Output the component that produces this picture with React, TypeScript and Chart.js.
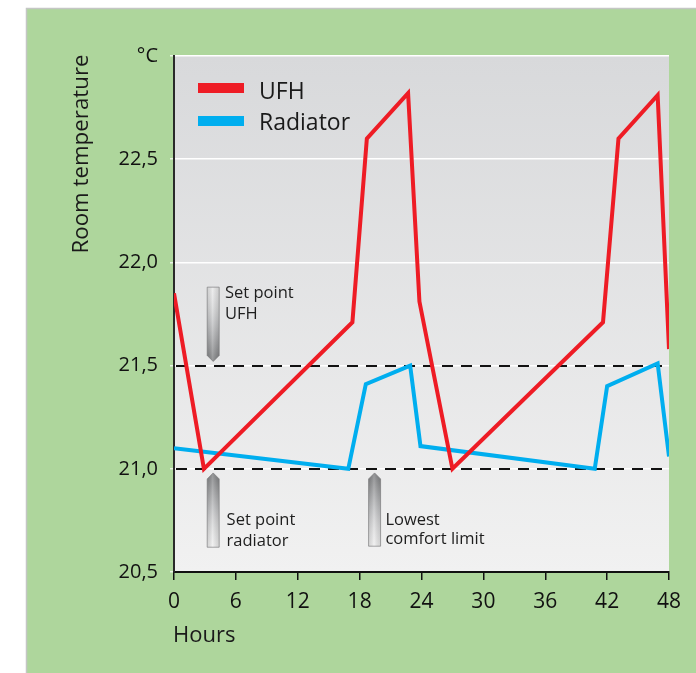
import React, { useEffect, useRef } from 'react';
import { Chart, registerables } from 'chart.js';

Chart.register(...registerables);

// ---------- data ----------
const hourTicks = [0, 6, 12, 18, 24, 30, 36, 42, 48];
const tempTicks = [20.5, 21.0, 21.5, 22.0, 22.5, 23.0];
const seriesNames = ['UFH', 'Radiator'];
const seriesColors = ['#ee1c25', '#00aeef'];

const ufhHours = [0, 2.9, 17.3, 18.7, 22.7, 23.8, 27.0, 41.6, 43.1, 46.9, 48];
const ufhTemp = [21.85, 21.0, 21.71, 22.6, 22.82, 21.81, 21.0, 21.71, 22.6, 22.81, 21.58];

const radHours = [0, 16.9, 18.6, 22.9, 23.9, 40.8, 42.0, 46.9, 48];
const radTemp = [21.1, 21.0, 21.41, 21.5, 21.11, 21.0, 21.4, 21.51, 21.06];

const referenceLevels = [21.0, 21.5];

const noteLabels = [['Set point', 'UFH'], ['Set point', 'radiator'], ['Lowest', 'comfort limit']];
const noteHours = [3.8, 3.8, 19.45];
const noteFrom = [21.88, 20.62, 20.625];
const noteTo = [21.52, 20.98, 20.98];
const noteTextHours = [4.95, 5.1, 20.5];
const noteTextTemps = [[21.826, 21.724], [20.73, 20.625], [20.73, 20.634]];

const FONT = '"Open Sans", "Noto Sans", sans-serif';

function fmt(v: number) {
  if (Math.abs(v - 23) < 1e-6) return '\u00B0C';
  return v.toFixed(1).replace('.', ',');
}

function drawArrow(ctx: CanvasRenderingContext2D, cx: number, yFlat: number, yTip: number) {
  const half = 6;
  const taper = 6;
  const dir = yTip > yFlat ? 1 : -1;
  const yShoulder = yTip - dir * taper;
  ctx.save();
  ctx.beginPath();
  ctx.moveTo(cx - half, yFlat);
  ctx.lineTo(cx + half, yFlat);
  ctx.lineTo(cx + half, yShoulder);
  ctx.lineTo(cx, yTip);
  ctx.lineTo(cx - half, yShoulder);
  ctx.closePath();
  const g = ctx.createLinearGradient(0, yFlat, 0, yTip);
  g.addColorStop(0, 'rgba(240,240,240,0.5)');
  g.addColorStop(0.5, 'rgba(190,191,193,0.9)');
  g.addColorStop(1, '#7d7e80');
  ctx.fillStyle = g;
  ctx.fill();
  const h = ctx.createLinearGradient(cx - half, 0, cx + half, 0);
  h.addColorStop(0, 'rgba(0,0,0,0.10)');
  h.addColorStop(0.45, 'rgba(255,255,255,0.18)');
  h.addColorStop(1, 'rgba(0,0,0,0.12)');
  ctx.fillStyle = h;
  ctx.fill();
  ctx.strokeStyle = 'rgba(120,120,122,0.65)';
  ctx.lineWidth = 1;
  ctx.stroke();
  ctx.restore();
}

const decorPlugin = {
  id: 'decor',
  beforeDraw(chart: any) {
    const { ctx, chartArea } = chart;
    const W = chart.width;
    const H = chart.height;
    ctx.save();
    ctx.fillStyle = '#ffffff';
    ctx.fillRect(0, 0, W, H);
    ctx.fillStyle = '#aed69c';
    ctx.fillRect(27, 9, W - 27, H - 9);
    ctx.strokeStyle = '#c4c6c4';
    ctx.lineWidth = 1.5;
    ctx.beginPath();
    ctx.moveTo(26.5, H);
    ctx.lineTo(26.5, 8.5);
    ctx.lineTo(W, 8.5);
    ctx.stroke();
    const g = ctx.createLinearGradient(0, chartArea.top, 0, chartArea.bottom);
    g.addColorStop(0, '#d8d9db');
    g.addColorStop(1, '#f1f1f1');
    ctx.fillStyle = g;
    ctx.fillRect(chartArea.left, chartArea.top, chartArea.right - chartArea.left, chartArea.bottom - chartArea.top);
    ctx.restore();
  },
  beforeDatasetsDraw(chart: any) {
    const { ctx, chartArea, scales } = chart;
    ctx.save();
    ctx.strokeStyle = '#111111';
    ctx.lineWidth = 2;
    ctx.setLineDash([11, 8]);
    referenceLevels.forEach((v) => {
      const y = Math.round(scales.y.getPixelForValue(v));
      ctx.beginPath();
      ctx.moveTo(chartArea.left + 2, y);
      ctx.lineTo(chartArea.right, y);
      ctx.stroke();
    });
    ctx.restore();
    ctx.save();
    noteHours.forEach((hr, i) => {
      const cx = scales.x.getPixelForValue(hr);
      drawArrow(ctx, cx, scales.y.getPixelForValue(noteFrom[i]), scales.y.getPixelForValue(noteTo[i]));
    });
    ctx.fillStyle = '#1e1e1e';
    ctx.font = `16.5px ${FONT}`;
    ctx.textAlign = 'left';
    ctx.textBaseline = 'alphabetic';
    noteLabels.forEach((lines, i) => {
      const x = scales.x.getPixelForValue(noteTextHours[i]);
      lines.forEach((t, j) => {
        ctx.fillText(t, x, scales.y.getPixelForValue(noteTextTemps[i][j]));
      });
    });
    ctx.restore();
  },
  afterDraw(chart: any) {
    const { ctx, chartArea } = chart;
    ctx.save();
    // legend
    const sx = chartArea.left + 24;
    const rows = [88, 121];
    const bases = [99, 130];
    ctx.font = `23px ${FONT}`;
    ctx.textAlign = 'left';
    ctx.textBaseline = 'alphabetic';
    seriesNames.forEach((n, i) => {
      ctx.fillStyle = seriesColors[i];
      ctx.fillRect(sx, rows[i] - 5, 46, 10);
      ctx.fillStyle = '#1a1a1a';
      ctx.fillText(n, sx + 61, bases[i]);
    });
    // axis titles
    ctx.fillStyle = '#1a1a1a';
    ctx.font = `22.3px ${FONT}`;
    ctx.textAlign = 'center';
    ctx.textBaseline = 'middle';
    ctx.translate(82, 154);
    ctx.rotate(-Math.PI / 2);
    ctx.fillText('Room temperature', 0, 0);
    ctx.setTransform(1, 0, 0, 1, 0, 0);
    ctx.font = `22px ${FONT}`;
    ctx.textAlign = 'left';
    ctx.fillText('Hours', chartArea.left - 1, 636);
    ctx.restore();
  },
};

export default function App() {
  const ref = useRef<HTMLCanvasElement | null>(null);
  useEffect(() => {
    if (!ref.current) return;
    const chart = new Chart(ref.current, {
      type: 'line',
      data: {
        datasets: [
          {
            label: seriesNames[0],
            data: ufhHours.map((h, i) => ({ x: h, y: ufhTemp[i] })),
            borderColor: seriesColors[0],
            borderWidth: 4,
            pointRadius: 0,
            tension: 0,
            clip: 0,
            borderJoinStyle: 'miter',
          },
          {
            label: seriesNames[1],
            data: radHours.map((h, i) => ({ x: h, y: radTemp[i] })),
            borderColor: seriesColors[1],
            borderWidth: 4,
            pointRadius: 0,
            tension: 0,
            clip: 0,
            borderJoinStyle: 'miter',
          },
        ],
      },
      options: {
        responsive: false,
        animation: false,
        layout: { padding: { left: 0, top: 56, right: 27, bottom: 0 } },
        plugins: { legend: { display: false }, tooltip: { enabled: false } },
        scales: {
          x: {
            type: 'linear',
            min: hourTicks[0],
            max: hourTicks[hourTicks.length - 1],
            afterBuildTicks: (s: any) => {
              s.ticks = hourTicks.map((v) => ({ value: v }));
            },
            afterFit: (s: any) => {
              s.height = 101;
            },
            ticks: {
              font: { family: FONT, size: 21 },
              color: '#111',
              padding: 9,
              maxRotation: 0,
              callback: (v: any) => String(v),
            },
            grid: {
              drawOnChartArea: false,
              drawTicks: true,
              tickLength: 8,
              tickColor: '#111',
              lineWidth: 1.5,
            },
            border: { color: '#111', width: 2 },
          },
          y: {
            type: 'linear',
            min: tempTicks[0],
            max: tempTicks[tempTicks.length - 1],
            afterBuildTicks: (s: any) => {
              s.ticks = tempTicks.map((v) => ({ value: v }));
            },
            afterFit: (s: any) => {
              s.width = 174;
            },
            ticks: {
              font: { family: FONT, size: 20 },
              color: '#111',
              padding: 12,
              callback: (v: any) => fmt(Number(v)),
            },
            grid: {
              color: '#ffffff',
              lineWidth: 1.5,
              tickLength: 4,
              tickColor: 'rgba(255,255,255,0.75)',
            },
            border: { color: '#2a2a2a', width: 2 },
          },
        },
      },
      plugins: [decorPlugin],
    } as any);
    (document as any).fonts?.load?.(`20px "Open Sans"`).then(() => chart.update()).catch(() => {});
    return () => chart.destroy();
  }, []);
  return (
    <div style={{ position: 'absolute', left: 0, top: 0, width: 696, height: 673 }}>
      <canvas ref={ref} width={696} height={673} style={{ display: 'block' }} />
    </div>
  );
}
